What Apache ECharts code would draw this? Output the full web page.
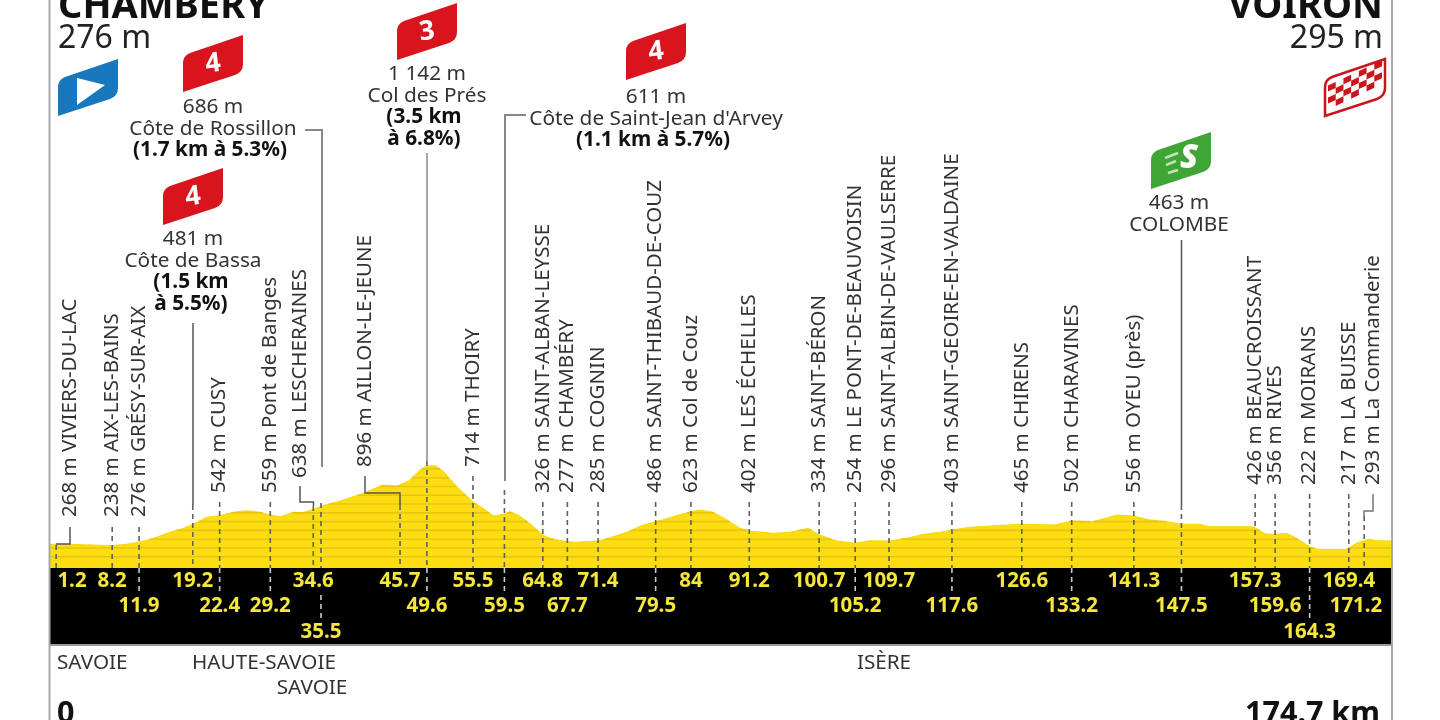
<!DOCTYPE html>
<html><head><meta charset="utf-8">
<style>html,body{margin:0;padding:0;background:#fff}#c{width:1440px;height:720px}</style>
<script src="https://cdn.jsdelivr.net/npm/echarts@6/dist/echarts.min.js"></script>
</head><body><div id="c"></div>
<script>
// ---- profile (km, metres)
const profileKm = [0,2.6,8.0,10.0,11.5,13.5,15.6,17.4,18.9,20.4,22.1,23.9,25.6,27.4,28.7,30.0,31.7,33.0,34.3,35.4,37.8,40.8,43.4,45.2,46.7,48.2,49.1,50.2,51.2,53.0,55.1,56.4,57.8,59.1,59.9,61.0,62.5,64.2,65.1,67.3,68.6,71.4,73.0,75.1,77.3,79.0,81.6,83.5,84.7,86.4,88.2,89.9,91.2,94.2,96.4,98.8,100.2,102.5,104.9,106.8,109.3,111.6,113.8,115.9,117.5,119.9,122.5,126.6,130.9,133.1,135.9,139.0,141.1,143.3,145.5,147.4,149.8,151.1,156.8,158.3,159.6,161.1,162.4,164.1,165.2,168.9,170.2,171.8,172.9,174.7];
const profileElev = [259,259,244,259,281,325,390,434,488,554,572,609,626,609,579,561,609,605,642,678,732,816,907,896,951,1071,1115,1118,1060,889,725,652,568,587,615,579,488,361,325,287,281,295,331,390,470,506,572,615,634,609,525,434,404,379,390,434,361,295,270,298,295,325,368,390,415,445,459,478,470,514,506,579,568,525,506,478,478,451,451,372,368,379,325,233,204,204,270,314,298,295];

// ---- stations
const stationKm = ['1.2','8.2','11.9','19.2','22.4','29.2','34.6','35.5','45.7','49.6','55.5','59.5','64.8','67.7','71.4','79.5','84','91.2','100.7','105.2','109.7','117.6','126.6','133.2','141.3','147.5','157.3','159.6','164.3','169.4','171.2'];
const stationPos = [0.8,8.1,11.6,18.6,22.1,28.7,34.3,35.3,45.6,49.1,55.1,59.2,64.2,67.4,71.4,78.9,83.5,91.1,100.2,104.9,109.3,117.5,126.6,133.1,141.2,147.4,157.0,159.6,164.1,169.2,171.2];
const stationRow = [0,0,1,0,1,1,0,2,0,1,0,1,0,1,0,1,0,0,0,1,0,1,0,1,0,1,0,1,2,0,1];
const stationElev = [268,238,276,null,542,559,638,null,896,null,714,null,326,277,285,486,623,402,334,254,296,403,465,502,556,null,426,356,222,217,293];
const stationName = ['VIVIERS-DU-LAC','AIX-LES-BAINS','GRÉSY-SUR-AIX','','CUSY','Pont de Banges','LESCHERAINES','','AILLON-LE-JEUNE','','THOIRY','','SAINT-ALBAN-LEYSSE','CHAMBÉRY','COGNIN','SAINT-THIBAUD-DE-COUZ','Col de Couz','LES ÉCHELLES','SAINT-BÉRON','LE PONT-DE-BEAUVOISIN','SAINT-ALBIN-DE-VAULSERRE','SAINT-GEOIRE-EN-VALDAINE','CHIRENS','CHARAVINES','OYEU (près)','','BEAUCROISSANT','RIVES','MOIRANS','LA BUISSE','La Commanderie'];

// ---- climbs and sprint: text blocks
const climbLines = [
  ['1 142 m','Col des Prés','*(3.5 km','*à 6.8%)'],
  ['686 m','Côte de Rossillon','*(1.7 km à 5.3%)'],
  ['481 m','Côte de Bassa','*(1.5 km','*à 5.5%)'],
  ['611 m',"Côte de Saint-Jean d'Arvey",'*(1.1 km à 5.7%)'],
  ['463 m','COLOMBE']
];
const departments = ['SAVOIE','HAUTE-SAVOIE','SAVOIE','ISÈRE'];

// ---- layout (pixels), kept apart from the values above
const FONT = '"Noto Sans","Open Sans",sans-serif';
const labelBottom = [517,517,517,0,493,493,478,0,467,0,467,0,493,493,493,493,493,493,493,493,493,493,493,493,493,0,485,485,485,485,485];
const labelX = {0:70,6:300,8:365,30:1373};
const dashTop = [545,527,527,505,502,502,506,503,505,461,476,490,502,502,502,502,502,502,502,502,502,502,502,502,502,505,494,494,494,494,516];
const blackDashFrom = {7:595};
const noBlackDash = [13,27,30];
const climbBox = [[427,73],[213,106],[193,238],[656,96],[1179,202]];
const boldShift = [-3,-3,-2,-3,0];
const leaders = {
  0:{c:'#555',w:1.5,p:[[70,527],[70,544],[56,544]]},
  3:{c:'#555',w:1.5,p:[[193,323],[193,505]]},
  6:{c:'#555',w:1.5,p:[[300,486],[300,502],[313.5,502],[313.5,506]]},
  7:{c:'#888',w:2,p:[[305,130],[322,130],[322,467]]},
  8:{c:'#555',w:1.5,p:[[365,476],[365,493],[400,493],[400,505]]},
  9:{c:'#888',w:1.5,p:[[427,153],[427,461]]},
  11:{c:'#888',w:2,p:[[526,115],[505,115],[505,481]]},
  25:{c:'#555',w:1.5,p:[[1181.5,240],[1181.5,505]]},
  30:{c:'#777',w:1.5,p:[[1373,494],[1373,511],[1364,511],[1364,516]]}
};
const ICON = 'M0,57 L0,28 Q0,21 7,18 L60,0 L60,29 Q60,37 52,40 Z';
const icons = [
  {x:58,y:59,c:'#1878bd',kind:'start'},
  {x:183,y:35,c:'#d8141c',t:'4'},
  {x:397,y:3,c:'#d8141c',t:'3'},
  {x:163,y:168,c:'#d8141c',t:'4'},
  {x:626,y:23,c:'#d8141c',t:'4'},
  {x:1151,y:132,c:'#3fa535',kind:'sprint'},
  {x:1325,y:59,c:'#c9151b',kind:'finish'}
];

function txt(x,y,text,font,fill,align,extra){
  return Object.assign({type:'text',x,y,silent:true,style:{text,font,fill,align:align||'center',verticalAlign:'middle'}},extra||{});
}
function stationItem(params,api){
  const i=params.dataIndex, x=api.coord([api.value(0),0])[0], ch=[];
  const base=568;
  ch.push({type:'line',shape:{x1:x,y1:dashTop[i],x2:x,y2:base},style:{stroke:'#5f6058',lineWidth:1.6,lineDash:[5,4]}});
  if(stationRow[i]>0 && noBlackDash.indexOf(i)<0) ch.push({type:'line',shape:{x1:x,y1:blackDashFrom[i]||base,x2:x,y2:stationRow[i]===1?592:618},style:{stroke:'#c8c8c8',lineWidth:1.6,lineDash:[5,4]}});
  if(leaders[i]) ch.push({type:'polyline',shape:{points:leaders[i].p},style:{fill:'none',stroke:leaders[i].c,lineWidth:leaders[i].w}});
  if(stationElev[i]!=null){
    const lx=labelX[i]!=null?labelX[i]:x;
    ch.push(txt(lx,labelBottom[i],stationElev[i]+' m '+stationName[i],'20.5px '+FONT,'#333','left',{rotation:Math.PI/2}));
  }
  return {type:'group',children:ch};
}
function kmItem(params,api){
  const i=params.dataIndex;
  const p=api.coord([api.value(0),api.value(1)+0.5]);
  let x=p[0];
  if(i===0) x=72; if(i===30) x=1356;
  return txt(x,p[1],stationKm[i],'bold 20.5px '+FONT,'#f5e63c');
}
function stripeItem(params,api){
  const L=api.value(0), segs=[], n=profileKm.length;
  const xy=(k,e)=>api.coord([k,e]);
  let start=null;
  for(let i=0;i<n;i++){
    const e=profileElev[i], k=profileKm[i];
    if(e>=L && start===null){
      if(i===0) start=k; else { const t=(L-profileElev[i-1])/(e-profileElev[i-1]); start=profileKm[i-1]+t*(k-profileKm[i-1]); }
    }
    if(start!==null && (e<L || i===n-1)){
      let end=k;
      if(e<L){ const t=(L-profileElev[i-1])/(e-profileElev[i-1]); end=profileKm[i-1]+t*(k-profileKm[i-1]); }
      const a=xy(start,L), b=xy(end,L);
      segs.push({type:'line',shape:{x1:a[0],y1:a[1],x2:b[0],y2:b[1]},style:{stroke:'#e7c511',lineWidth:1.6}});
      start=null;
    }
  }
  return {type:'group',children:segs};
}
function iconEl(ic){
  const ch=[{type:'path',shape:{pathData:ICON,x:0,y:0,width:60,height:57,layout:'cover'},style:{fill:ic.kind==='finish'?'#fff':ic.c,stroke:ic.kind==='finish'?ic.c:'none',lineWidth:2.5}}];
  if(ic.t) ch.push(txt(30,29,ic.t,'bold 27px '+FONT,'#fff','center',{rotation:0.12}));
  if(ic.kind==='start') ch.push({type:'polygon',shape:{points:[[19,19],[19,46],[47,26]]},style:{fill:'#fff'}});
  if(ic.kind==='sprint'){
    ch.push(txt(38,27,'S','italic 900 33px '+FONT,'#fff'));
    [[14,26,27,21],[15,33,25,29],[17,41,27,38]].forEach(l=>ch.push({type:'line',shape:{x1:l[0],y1:l[1],x2:l[2],y2:l[3]},style:{stroke:'#bfe3b5',lineWidth:2.5}}));
  }
  if(ic.kind==='finish'){
    const cells=[], cols=7, rows=4, rh=24/rows, cw=54/cols;
    const pt=(u,v)=>{const x=3+u*cw; return [x, 52-x*0.47-(rows-v)*rh];};
    for(let r=0;r<rows;r++)for(let c=0;c<cols;c++){ if((r+c)%2) continue;
      cells.push({type:'polygon',shape:{points:[pt(c,r),pt(c+1,r),pt(c+1,r+1),pt(c,r+1)]},style:{fill:'#c9151b'}});
    }
    ch.push({type:'group',children:cells});
  }
  return {type:'group',x:ic.x,y:ic.y,children:ch};
}
const stripeLevels = [123,219,315,411,507,603,699,795,891,987,1083];

const chart = echarts.init(document.getElementById('c'),null,{renderer:'canvas'});
chart.setOption({
  animation:false,
  backgroundColor:'#fff',
  grid:[
    {left:50,width:1341,top:0,height:568,show:false},
    {left:50,width:1341,top:568,height:77,show:true,backgroundColor:'#000',borderWidth:0}
  ],
  xAxis:[
    {gridIndex:0,type:'value',min:0,max:174.7,show:false},
    {gridIndex:1,type:'value',min:0,max:174.7,axisLine:{show:true,onZero:false,lineStyle:{color:'#999',width:2}},axisTick:{show:false},axisLabel:{show:false},splitLine:{show:false}}
  ],
  yAxis:[
    {gridIndex:0,type:'value',min:0,max:6208,show:false},
    {gridIndex:1,type:'value',min:0,max:3,inverse:true,show:false}
  ],
  graphic:{elements:[
    {type:'line',shape:{x1:49.5,y1:0,x2:49.5,y2:720},style:{stroke:'#aaa',lineWidth:2},z:20},
    {type:'line',shape:{x1:1392,y1:0,x2:1392,y2:720},style:{stroke:'#aaa',lineWidth:2},z:20},
    {type:'text',x:58,y:26,style:{text:'CHAMBERY',font:'bold 38px '+FONT,fill:'#111',align:'left',verticalAlign:'bottom'}},
    {type:'text',x:1383,y:26,style:{text:'VOIRON',font:'bold 38px '+FONT,fill:'#111',align:'right',verticalAlign:'bottom'}},
    {type:'text',x:58,y:39,style:{text:'276 m',font:'32px '+FONT,fill:'#222',align:'left',verticalAlign:'middle'}},
    {type:'text',x:1383,y:39,style:{text:'295 m',font:'32px '+FONT,fill:'#222',align:'right',verticalAlign:'middle'}},
    {type:'text',x:57,y:663,style:{text:departments[0],font:'20.7px '+FONT,fill:'#333',align:'left',verticalAlign:'middle'}},
    {type:'text',x:264,y:663,style:{text:departments[1],font:'20.7px '+FONT,fill:'#333',align:'center',verticalAlign:'middle'}},
    {type:'text',x:312,y:688,style:{text:departments[2],font:'20.7px '+FONT,fill:'#333',align:'center',verticalAlign:'middle'}},
    {type:'text',x:884,y:663,style:{text:departments[3],font:'20.7px '+FONT,fill:'#333',align:'center',verticalAlign:'middle'}},
    {type:'text',x:57,y:714,style:{text:'0',font:'bold 30.5px '+FONT,fill:'#111',align:'left',verticalAlign:'middle'}},
    {type:'text',x:1380,y:714,style:{text:'174.7 km',font:'bold 30.5px '+FONT,fill:'#111',align:'right',verticalAlign:'middle'}}
  ]},
  series:[
    {type:'line',xAxisIndex:0,yAxisIndex:0,z:2,silent:true,symbol:'none',lineStyle:{width:1,color:'#f5d90f'},areaStyle:{color:'#fbdd12',opacity:1},data:profileKm.map((k,i)=>[k,profileElev[i]])},
    {type:'custom',xAxisIndex:0,yAxisIndex:0,z:3,silent:true,clip:false,data:stripeLevels.map(v=>[0,v]),encode:{x:0,y:1},renderItem:(p,a)=>stripeItem(p,{value:()=>a.value(1),coord:a.coord})},
    {type:'custom',xAxisIndex:0,yAxisIndex:0,z:5,silent:true,clip:false,data:stationPos.map((k,i)=>[k,0]),encode:{x:0,y:1},renderItem:stationItem},
    {type:'custom',xAxisIndex:1,yAxisIndex:1,z:6,silent:true,clip:false,data:stationPos.map((k,i)=>[k,stationRow[i]]),encode:{x:0,y:1},renderItem:kmItem},
    {type:'custom',coordinateSystem:'none',z:7,silent:true,data:climbLines.map((l,i)=>[i]),renderItem:(p,api)=>{
      const i=p.dataIndex,[cx,top]=climbBox[i];
      return {type:'group',children:climbLines[i].map((s,j)=>{
        const bold=s[0]==='*', t=bold?s.slice(1):s;
        return txt(cx+(bold?boldShift[i]:0),top+1+j*21.6,t,(bold?'bold 20.8px ':'20.8px ')+FONT,bold?'#111':'#333');
      })};
    }},
    {type:'custom',coordinateSystem:'none',z:7,silent:true,data:icons.map((l,i)=>[i]),renderItem:(p)=>iconEl(icons[p.dataIndex])}
  ]
});
</script></body></html>
